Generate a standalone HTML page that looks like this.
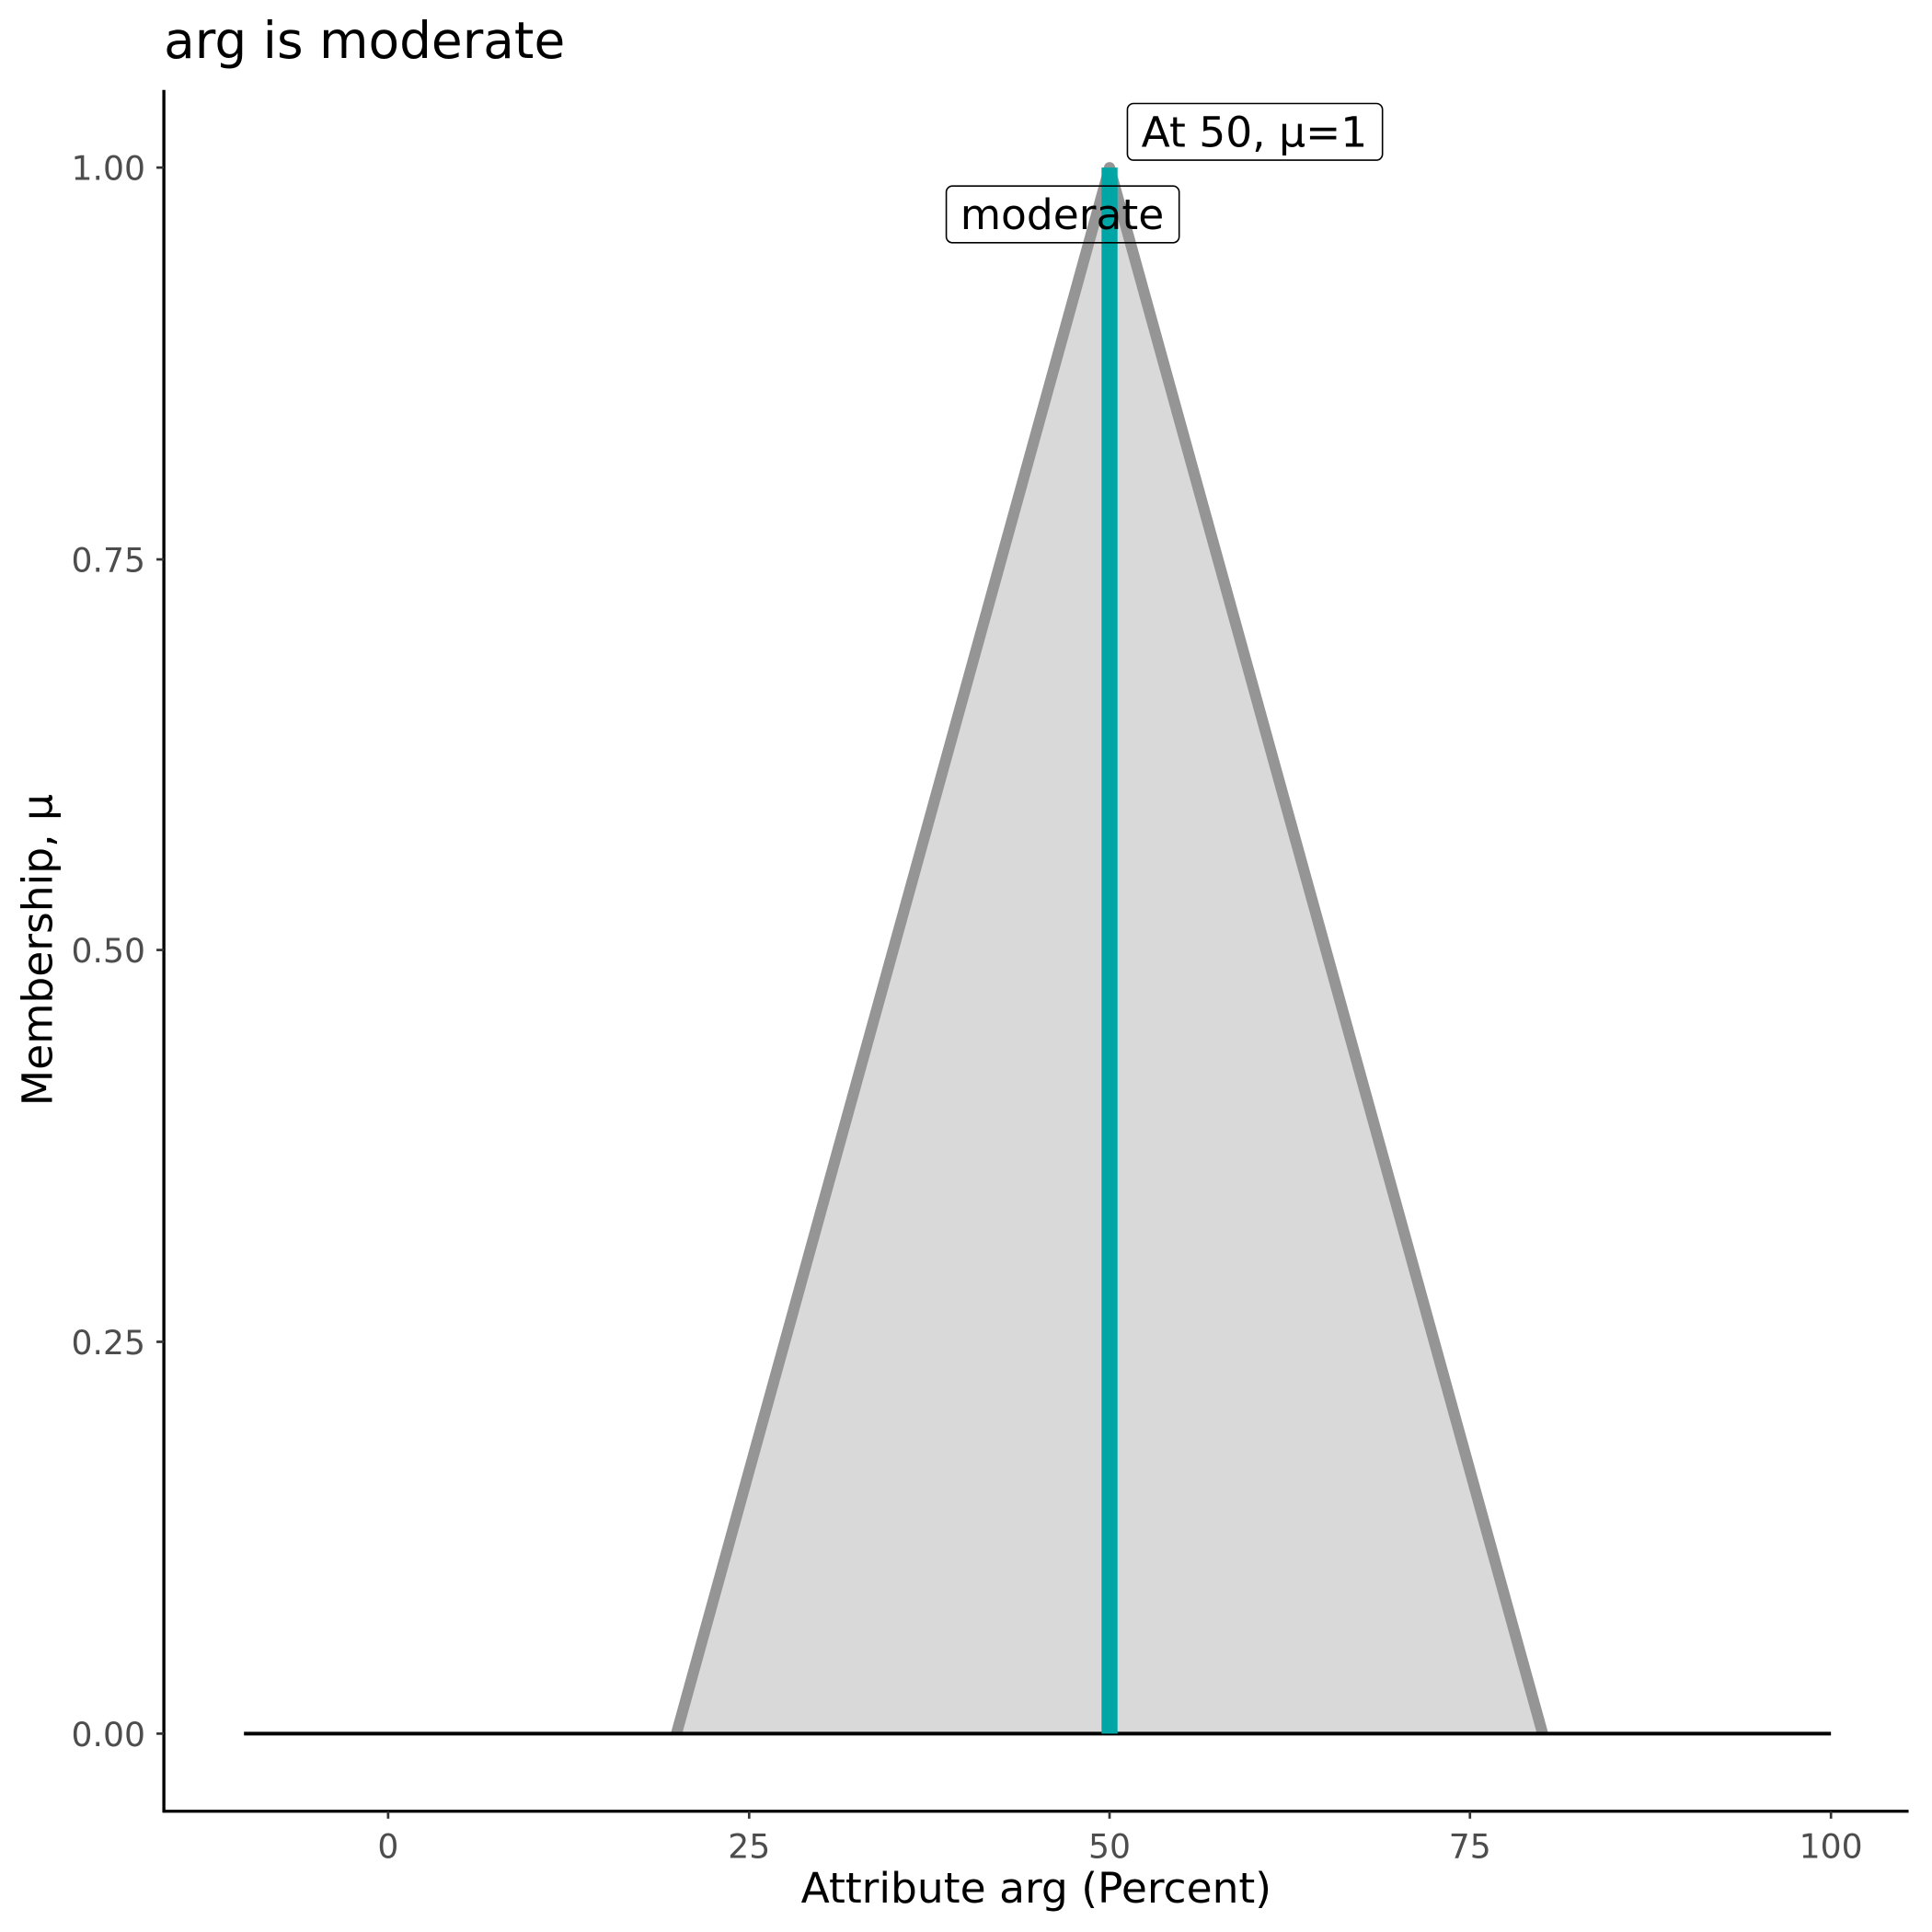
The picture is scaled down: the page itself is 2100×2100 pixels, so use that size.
<!DOCTYPE html>
<html><head><meta charset="utf-8"><style>html,body{margin:0;padding:0;background:#fff}svg{display:block}</style></head>
<body>
<svg width="2100" height="2100" viewBox="0 0 1568 1568" xmlns="http://www.w3.org/2000/svg" font-family="DejaVu Sans, Liberation Sans, sans-serif">
<rect width="1568" height="1568" fill="#fff"/>
<text x="133" y="47" font-size="41" fill="#000">arg is moderate</text>
<polygon points="549,1407 900.5,136 1252,1407" fill="#d9d9d9"/>
<polyline points="549,1407 900.5,136 1252,1407" fill="none" stroke="#959595" stroke-width="9" stroke-linejoin="round"/>
<line x1="198" y1="1407" x2="1486" y2="1407" stroke="#000" stroke-width="3"/>
<line x1="900.5" y1="136" x2="900.5" y2="1407" stroke="#00A6A6" stroke-width="13"/>
<rect x="768" y="151" width="189" height="46" rx="5" fill="none" stroke="#000" stroke-width="1.2"/>
<text x="862" y="186" font-size="34" text-anchor="middle" fill="#000">moderate</text>
<rect x="915" y="84" width="207" height="46" rx="5" fill="#fff" stroke="#000" stroke-width="1.2"/>
<text x="1018" y="119" font-size="34" text-anchor="middle" fill="#000">At 50, μ=1</text>
<line x1="133" y1="73" x2="133" y2="1471" stroke="#000" stroke-width="2.5"/>
<line x1="132" y1="1470" x2="1549" y2="1470" stroke="#000" stroke-width="2.5"/>
<g stroke="#333" stroke-width="2">
<line x1="127" y1="136" x2="133" y2="136"/><line x1="127" y1="454" x2="133" y2="454"/>
<line x1="127" y1="771" x2="133" y2="771"/><line x1="127" y1="1089" x2="133" y2="1089"/>
<line x1="127" y1="1407" x2="133" y2="1407"/>
<line x1="315" y1="1470" x2="315" y2="1476"/><line x1="608" y1="1470" x2="608" y2="1476"/>
<line x1="900.5" y1="1470" x2="900.5" y2="1476"/><line x1="1193" y1="1470" x2="1193" y2="1476"/>
<line x1="1486" y1="1470" x2="1486" y2="1476"/>
</g>
<g font-size="27" fill="#4d4d4d" text-anchor="end">
<text x="118" y="146">1.00</text><text x="118" y="464">0.75</text>
<text x="118" y="781">0.50</text><text x="118" y="1099">0.25</text>
<text x="118" y="1417">0.00</text>
</g>
<g font-size="27" fill="#4d4d4d" text-anchor="middle">
<text x="315" y="1508">0</text><text x="608" y="1508">25</text>
<text x="900.5" y="1508">50</text><text x="1193" y="1508">75</text>
<text x="1486" y="1508">100</text>
</g>
<text x="841" y="1544" font-size="34" text-anchor="middle" fill="#000">Attribute arg (Percent)</text>
<text transform="translate(42,771) rotate(-90)" font-size="34" text-anchor="middle" fill="#000">Membership, μ</text>
</svg>
</body></html>
